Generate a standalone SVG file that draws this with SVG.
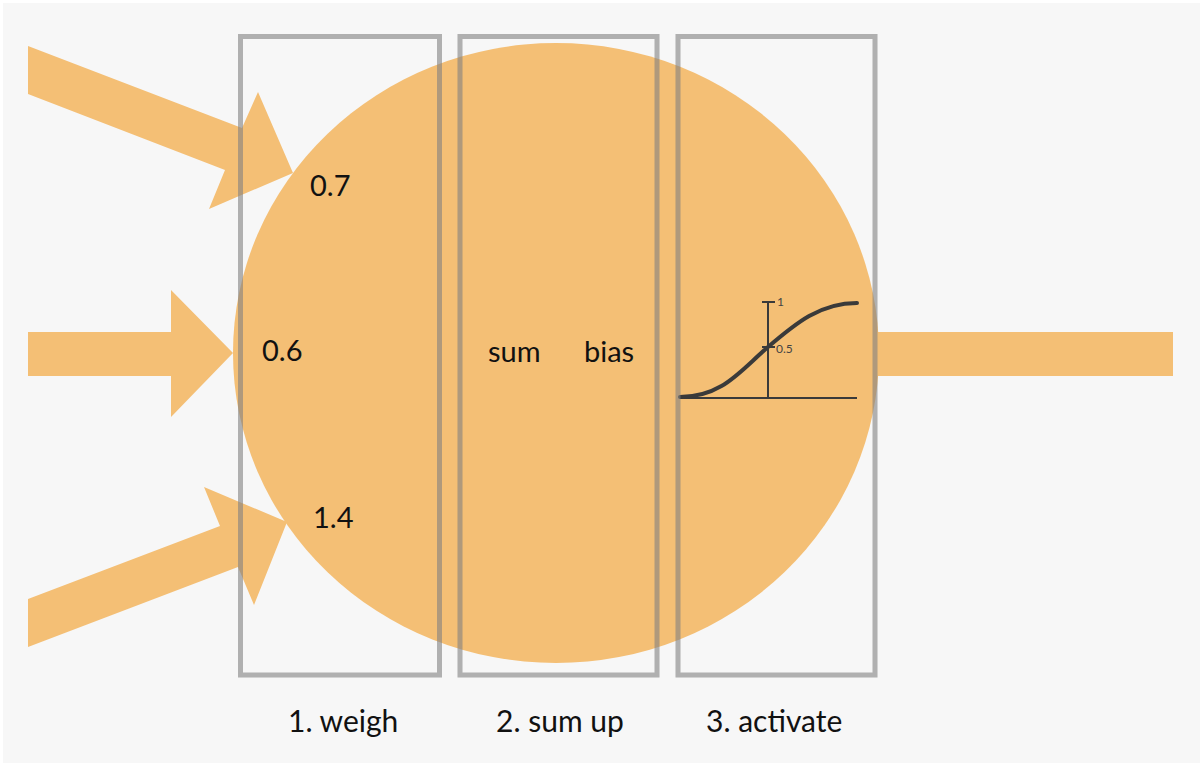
<svg xmlns="http://www.w3.org/2000/svg" width="1200" height="763" viewBox="0 0 1200 763">
<style>
.o{fill:#f4bf75}
.box{fill:none;stroke:#808080;stroke-opacity:0.6;stroke-width:5}
.t{font-family:Lato,"Liberation Sans",sans-serif;font-size:29px;fill:#111}
.b{font-family:Lato,"Liberation Sans",sans-serif;font-size:30px;fill:#111}
.s{font-family:Lato,"Liberation Sans",sans-serif;font-size:12px;fill:#444}
.ax{stroke:#3a3a3a;stroke-width:2;fill:none}
</style>
<rect x="0" y="0" width="1200" height="763" fill="#ffffff"/>
<rect x="3" y="3" width="1197" height="760" fill="#f7f7f7"/>
<g id="connectors">
<polygon class="o" points="28,46 242,128 258,92 293,173 209,209 225,170 28,94"/>
<polygon class="o" points="28,332 171,332 171,290 233,353 171,417 171,376 28,376"/>
<polygon class="o" points="28,599 220,526 204,487 287,522 254,605 238,567 28,647"/>
<rect class="o" x="870" y="332" width="303" height="44"/>
</g>
<g id="neuron">
<ellipse class="o" cx="556" cy="353" rx="323" ry="310"/>
</g>
<g id="weights">
<text class="t" x="310" y="196">0.7</text>
<text class="t" x="262" y="361">0.6</text>
<text class="t" x="313" y="528">1.4</text>
</g>
<g id="sum">
<text class="t" x="488" y="362">sum</text>
<text class="t" x="584" y="362">bias</text>
</g>
<g id="activation">
<line class="ax" x1="680" y1="398" x2="857" y2="398"/>
<line class="ax" x1="768" y1="302" x2="768" y2="398"/>
<line class="ax" x1="762" y1="302" x2="775" y2="302" stroke-width="1.5"/>
<line class="ax" x1="762" y1="347" x2="775" y2="347" stroke-width="1.5"/>
<text class="s" x="777" y="306">1</text>
<text class="s" x="776" y="353">0.5</text>
<path d="M680,397 C722,397 740,371 768,347 C796,323 820,303 857,303" fill="none" stroke="#3a3a3a" stroke-width="4" stroke-linecap="round"/>
</g>
<g id="step1">
<rect class="box" x="240.5" y="36.5" width="199" height="638.5"/>
<text class="b" x="288" y="732">1. weigh</text>
</g>
<g id="step2">
<rect class="box" x="460" y="36.5" width="197" height="638.5"/>
<text class="b" x="496" y="732">2. sum up</text>
</g>
<g id="step3">
<rect class="box" x="678" y="36.5" width="197" height="638.5"/>
<text class="b" x="706" y="732">3. activate</text>
</g>
</svg>
